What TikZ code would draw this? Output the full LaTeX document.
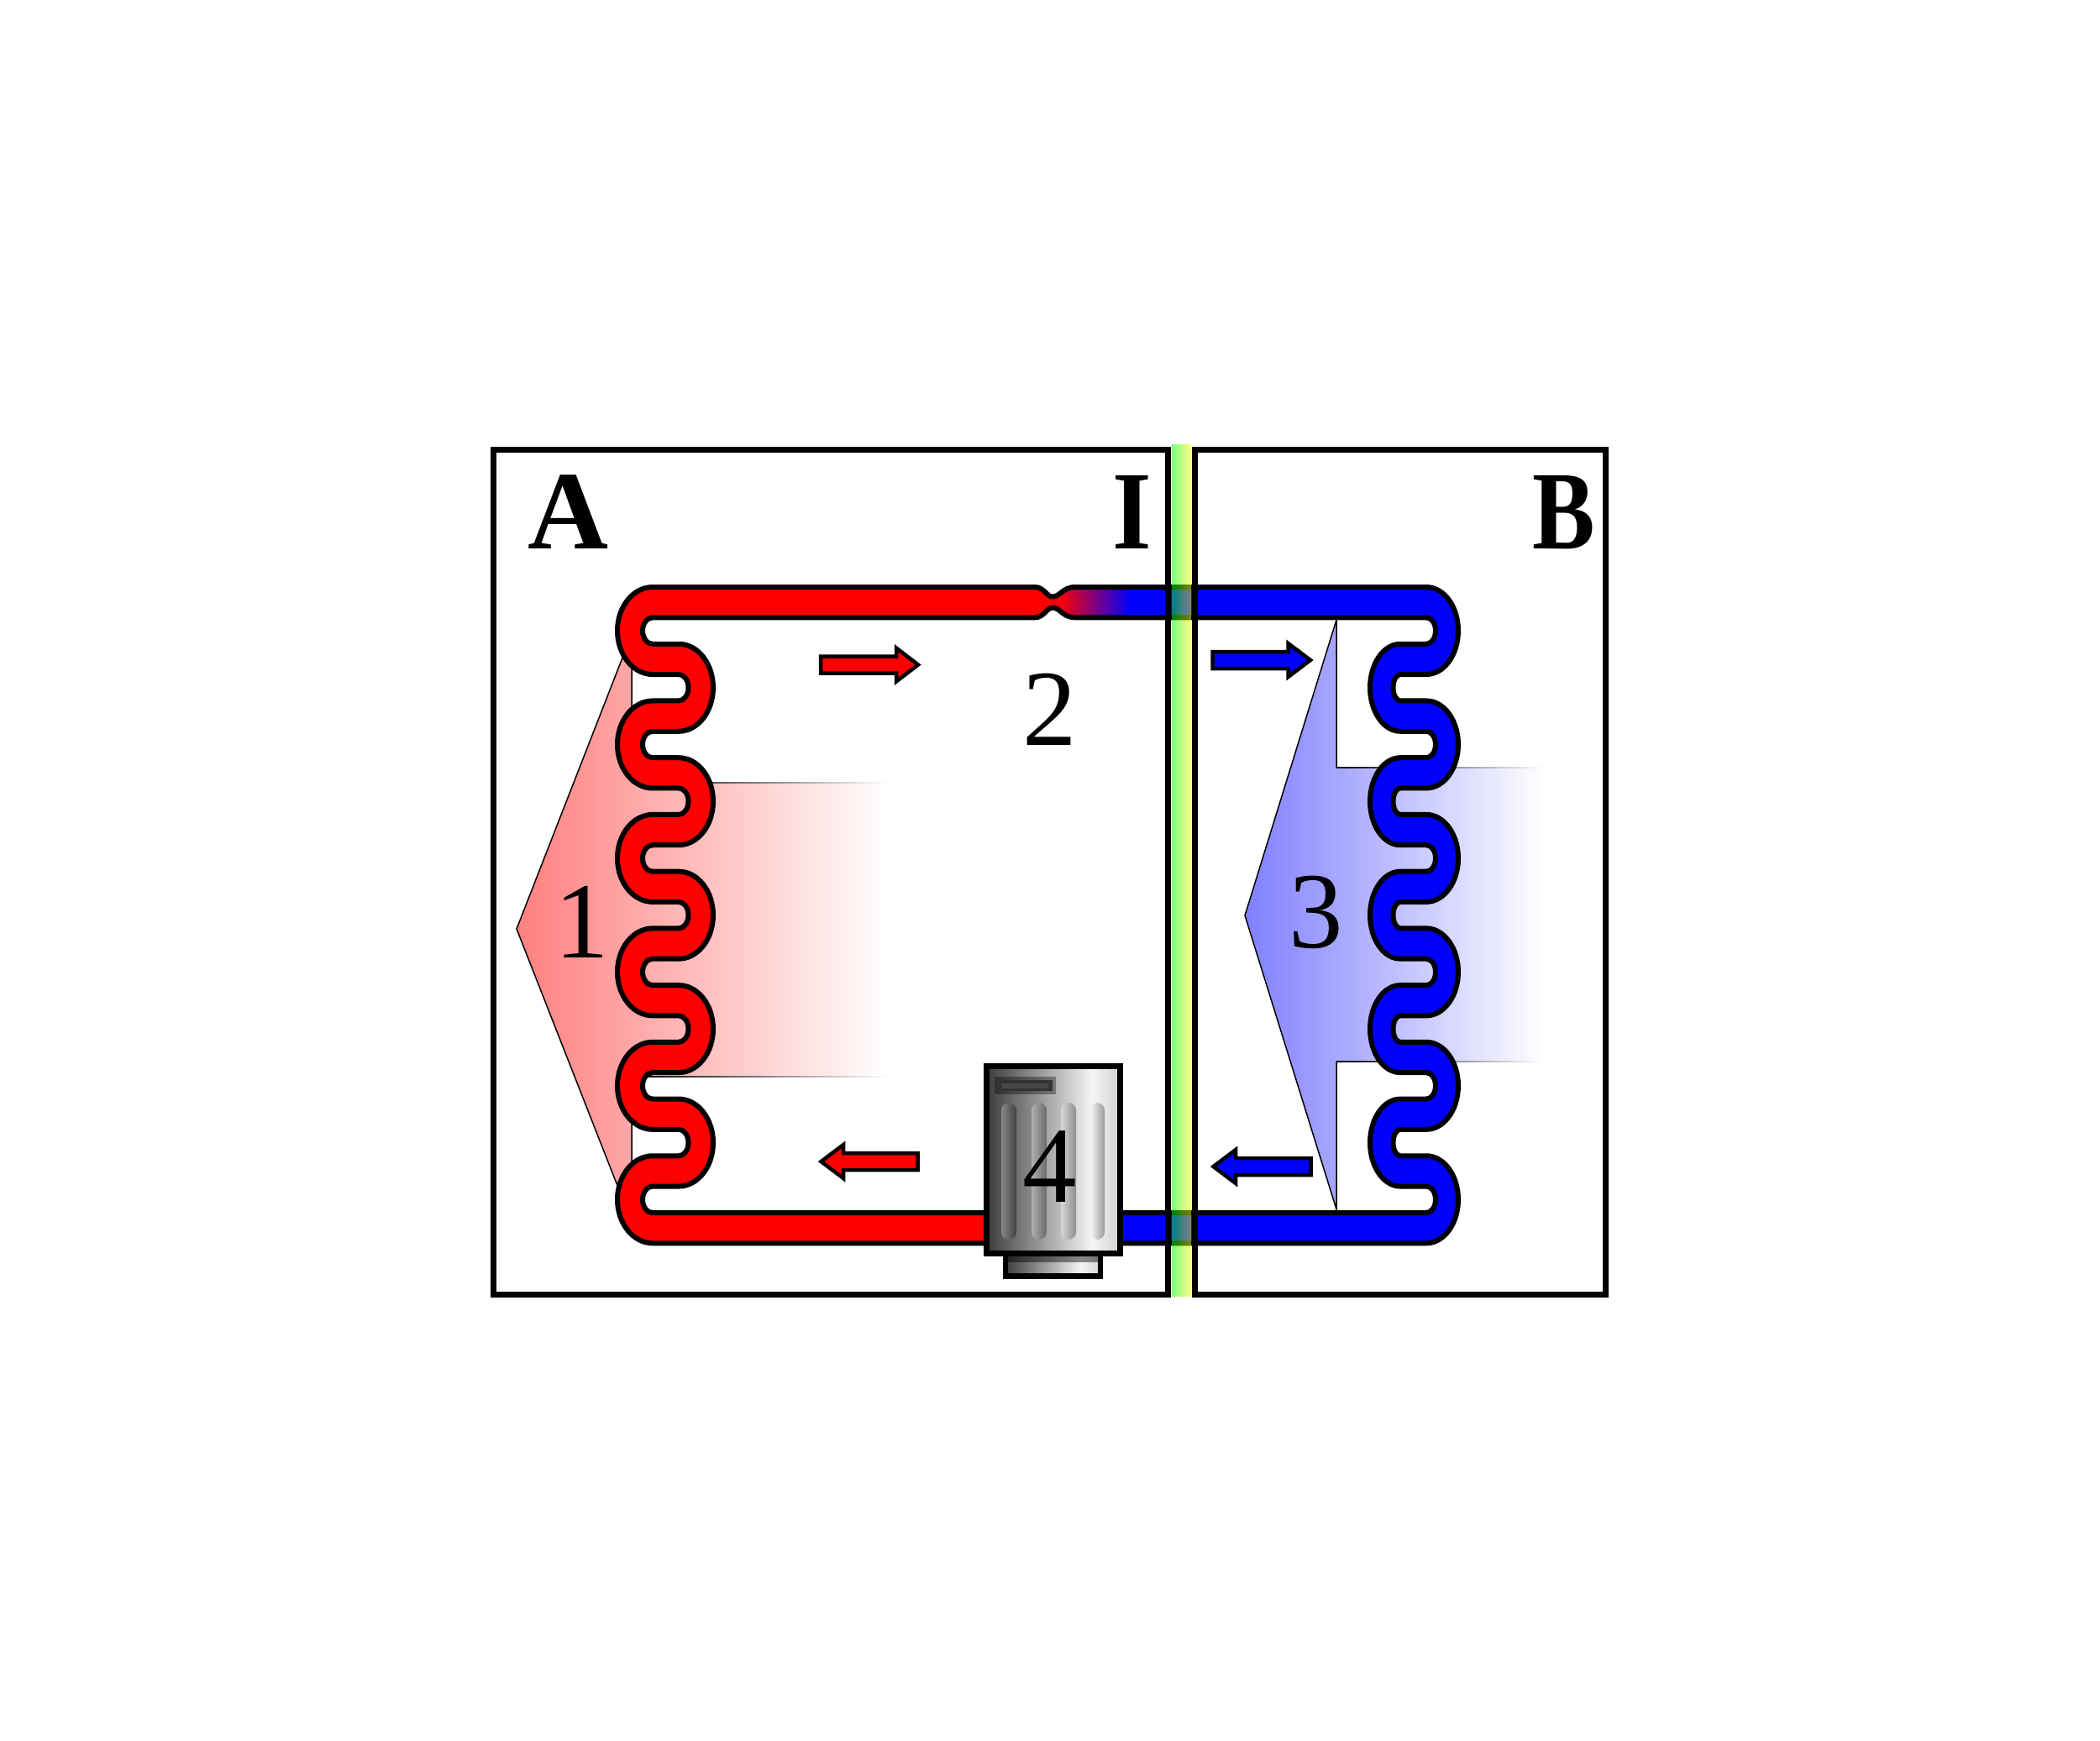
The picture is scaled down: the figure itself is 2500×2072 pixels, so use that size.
\documentclass[tikz,border=0pt]{standalone}
\usepackage{graphicx}
\usepackage{fontspec}
\setmainfont{Liberation Serif}
\pgfdeclarehorizontalshading{bodyshade}{100bp}{rgb(0bp)=(.235,.235,.235); rgb(25bp)=(.235,.235,.235); rgb(64.5bp)=(.96,.96,.96); rgb(75bp)=(.82,.82,.82); rgb(100bp)=(.82,.82,.82)}
% red coil pieces
\def\RLoD{arc[start angle=270,delta angle=-180,x radius=42,y radius=52]}
\def\RRiD{arc[start angle=-90,delta angle=180,x radius=11.5,y radius=15.725]}
\def\RLiU{arc[start angle=90,delta angle=180,x radius=12,y radius=15.725]}
\def\RRoU{arc[start angle=90,delta angle=-180,x radius=41,y radius=52]}
\def\RedDown{\RLoD -- ++(31,0) \RRiD -- ++(-31,0)}
\def\RedUp{\RLiU -- ++(31,0) \RRoU -- ++(-31,0)}
% blue coil pieces
\def\BRoD{arc[start angle=-90,delta angle=180,x radius=38,y radius=52]}
\def\BLiD{arc[start angle=270,delta angle=-180,x radius=8.5,y radius=15.725]}
\def\BRiU{arc[start angle=90,delta angle=-180,x radius=11,y radius=15.725]}
\def\BLoU{arc[start angle=90,delta angle=180,x radius=36,y radius=52]}
\def\BlueDown{\BRoD -- ++(-31,0) \BLiD -- ++(31,0)}
\def\BlueUp{\BRiU -- ++(-31,0) \BLoU -- ++(31,0)}
\def\redpath{(1253,710.5) .. controls (1246,710.5) and (1243,699) .. (1232,699) -- (777,699)
 \RedDown \RedDown \RedDown \RedDown \RedDown \RLoD -- (1175,1480.25) -- (1175,1444) -- (777,1444)
 \RedUp \RedUp \RedUp \RedUp \RedUp \RLiU -- (1232,735.3)
 .. controls (1243,735.3) and (1246,723.5) .. (1253,723.5)}
\def\bluepath{(1253,710.5) .. controls (1262,710.5) and (1265,699) .. (1280,699) -- (1698,699)
 \BlueDown \BlueDown \BlueDown \BlueDown \BlueDown \BRoD -- (1330,1480.25) -- (1330,1444) -- (1698,1444)
 \BlueUp \BlueUp \BlueUp \BlueUp \BlueUp \BRiU -- (1280,735.3)
 .. controls (1265,735.3) and (1262,723.5) .. (1253,723.5)}
\tikzset{
 pipeline/.style={line width=3pt,line join=round},
 framebox/.style={line width=3.5pt,black},
 thinline/.style={line width=.75pt,black},
 flowred/.style={draw=black,fill=red,line width=2.25pt},
 flowblue/.style={draw=black,fill=blue,line width=2.25pt},
 bigbold/.style={font=\fontsize{66.5pt}{70pt}\selectfont\bfseries,inner sep=0pt,anchor=base},
 bigdigit/.style={font=\fontsize{64.5pt}{70pt}\selectfont,inner sep=0pt,anchor=base},
 flute/.style={rounded corners=4.5pt},
 machine/.style={line width=3.25pt,black}
}
\begin{document}
\begin{tikzpicture}[x=.5pt,y=-.5pt]
\useasboundingbox (0,0) rectangle (2500,2072);
\fill[white] (0,0) rectangle (2500,2072);
% heat arrows
\shade[left color={rgb,1:red,1;green,.5;blue,.5},right color=white]
  (615,1106) -- (752,755) -- (752,932) -- (1058,932) -- (1058,1282) -- (752,1282) -- (752,1455) -- cycle;
\draw[thinline] (752,932) -- (752,755) -- (615,1106) -- (752,1455) -- (752,1282);
\shade[left color=black,right color=white] (752,931.2) rectangle (1058,932.8);
\shade[left color=black,right color=white] (752,1281.2) rectangle (1058,1282.8);
\shade[left color={rgb,1:red,.5;green,.5;blue,1},right color=white]
  (1482,1090) -- (1591,738) -- (1591,914) -- (1838,914) -- (1838,1264) -- (1591,1264) -- (1591,1440) -- cycle;
\draw[thinline] (1591,914) -- (1591,738) -- (1482,1090) -- (1591,1440) -- (1591,1264);
\shade[left color=black,right color=white] (1591,913.2) rectangle (1838,914.8);
\shade[left color=black,right color=white] (1591,1263.2) rectangle (1838,1264.8);
% pipes
\fill[red] \redpath -- cycle;
\begin{scope}
\clip \bluepath -- cycle;
\fill[blue] (1240,690) rectangle (1760,1490);
\shade[inner color=red,outer color=blue] (1262,717) circle[radius=42pt];
\end{scope}
\draw[pipeline] \redpath;
\draw[pipeline] \bluepath;
% rooms
\draw[framebox] (1390,535) -- (587,535) -- (587,1541) -- (1390,1541) -- cycle;
\draw[framebox] (1422,535) -- (1911,535) -- (1911,1541) -- (1422,1541) -- cycle;
% wall
\shade[left color=green,right color=yellow,fill opacity=.5] (1395,529) rectangle (1418,1543);
% flow arrows
\draw[flowred] (977,781.5) -- (1067,781.5) -- (1067,771.5) -- (1093,791.5) -- (1067,811.5) -- (1067,801.5) -- (977,801.5) -- cycle;
\draw[flowblue] (1443.5,776) -- (1533.5,776) -- (1533.5,766) -- (1560,786) -- (1533.5,806) -- (1533.5,796) -- (1443.5,796) -- cycle;
\draw[flowred] (1092.5,1373) -- (1004,1373) -- (1004,1363) -- (977.5,1383) -- (1004,1403) -- (1004,1393) -- (1092.5,1393) -- cycle;
\draw[flowblue] (1560.5,1379) -- (1471,1379) -- (1471,1369) -- (1444.5,1389) -- (1471,1409) -- (1471,1399) -- (1560.5,1399) -- cycle;
% compressor
\shade[shading=bodyshade] (1197,1490) rectangle (1310,1519.5);
\fill[black,opacity=.45] (1197,1490) rectangle (1310,1503);
\draw[machine] (1197,1490) rectangle (1310,1519.5);
\shade[shading=bodyshade] (1174.5,1269.5) rectangle (1333.5,1492.5);
\shade[flute,left color={rgb,255:red,135;green,135;blue,135},right color={rgb,255:red,65;green,65;blue,65}] (1192,1313) rectangle (1210,1476);
\shade[flute,left color={rgb,255:red,175;green,175;blue,175},right color={rgb,255:red,105;green,105;blue,105}] (1228,1313) rectangle (1246,1476);
\shade[flute,left color={rgb,255:red,215;green,215;blue,215},right color={rgb,255:red,140;green,140;blue,140}] (1263,1313) rectangle (1281,1476);
\shade[flute,left color={rgb,255:red,245;green,245;blue,245},right color={rgb,255:red,155;green,155;blue,155}] (1298,1313) rectangle (1315,1476);
\fill[black,opacity=.35] (1184,1282) rectangle (1257,1303);
\fill[black!80] (1188,1286) rectangle (1253,1299);
\fill[black!72] (1193,1289.5) rectangle (1248,1295.5);
\draw[machine] (1174.5,1269.5) rectangle (1333.5,1492.5);
% labels
\node[bigbold] (labA) at (677,653) {A};
\node[bigbold] (labI) at (1348,653) {\scalebox{.9}[1]{I}};
\node[bigbold] (labB) at (1862,653) {\scalebox{.84}[1]{B}};
\node[bigdigit] (lab1) at (693,1140) {1};
\node[bigdigit] (lab2) at (1250,887) {2};
\node[bigdigit] (lab3) at (1567,1128) {3};
\node[bigdigit] (lab4) at (1250,1431) {4};
\end{tikzpicture}
\end{document}
